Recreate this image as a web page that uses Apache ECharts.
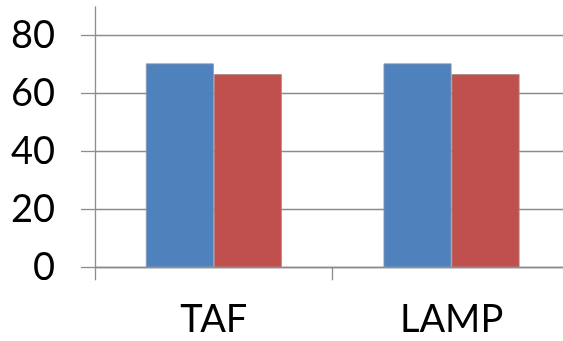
<!DOCTYPE html>
<html>
<head>
<meta charset="utf-8">
<script src="https://cdn.jsdelivr.net/npm/echarts@6/dist/echarts.min.js"></script>
<style>
  html, body { margin: 0; padding: 0; background: #fff; overflow: hidden; }
  /* the plot runs slightly past the right edge of the window */
  #chart { width: 575px; height: 341px; }
</style>
</head>
<body>
<div id="chart"></div>
<script>
// Categories and the two series
var categories = ['TAF', 'LAMP'];
var seriesA = [70.3, 70.3];
var seriesB = [66.6, 66.6];
var yTicks = [0, 20, 40, 60, 80];

var FONT = 'Lato';
var AXIS_GRAY = '#8c8c8c';

var chart = echarts.init(document.getElementById('chart'), null, { renderer: 'canvas' });

chart.setOption({
  animation: false,
  backgroundColor: '#ffffff',
  grid: [
    // outer frame: carries only the taller vertical axis line
    { left: 95, top: 7, width: 475.4, height: 260.3, containLabel: false },
    // plotting area
    { left: 95, top: 35.3, width: 475.4, height: 232, containLabel: false }
  ],
  xAxis: [
    { gridIndex: 0, type: 'category', data: categories, show: false },
    {
      gridIndex: 1,
      type: 'category',
      data: categories,
      boundaryGap: true,
      axisLine: { show: true, lineStyle: { color: AXIS_GRAY, width: 1.3 } },
      axisTick: { show: true, length: 13, inside: false, alignWithLabel: false,
                  lineStyle: { color: AXIS_GRAY, width: 1.3 } },
      axisLabel: { color: '#000', fontFamily: FONT, fontSize: 38, margin: 33 },
      splitLine: { show: false }
    }
  ],
  yAxis: [
    {
      gridIndex: 0, type: 'value', min: 0, max: 90,
      axisLine: { show: true, lineStyle: { color: AXIS_GRAY, width: 1.3 } },
      axisTick: { show: false }, axisLabel: { show: false }, splitLine: { show: false }
    },
    {
      gridIndex: 1, type: 'value', min: yTicks[0], max: yTicks[yTicks.length - 1], interval: 20,
      axisLine: { show: false },
      axisTick: { show: true, length: 14, inside: false, lineStyle: { color: AXIS_GRAY, width: 1.3 } },
      axisLabel: { color: '#000', fontFamily: FONT, fontSize: 38, margin: 40 },
      splitLine: { show: true, lineStyle: { color: AXIS_GRAY, width: 1.3 } }
    }
  ],
  series: [
    {
      type: 'bar', xAxisIndex: 1, yAxisIndex: 1, data: seriesA,
      barWidth: 68, barGap: '0%',
      itemStyle: { color: '#4f81bd', borderColor: '#8a9bb0', borderWidth: 0.8 }
    },
    {
      type: 'bar', xAxisIndex: 1, yAxisIndex: 1, data: seriesB,
      barWidth: 68, barGap: '0%',
      itemStyle: { color: '#c0504d', borderColor: '#a88a89', borderWidth: 0.8 }
    }
  ]
});
</script>
</body>
</html>
